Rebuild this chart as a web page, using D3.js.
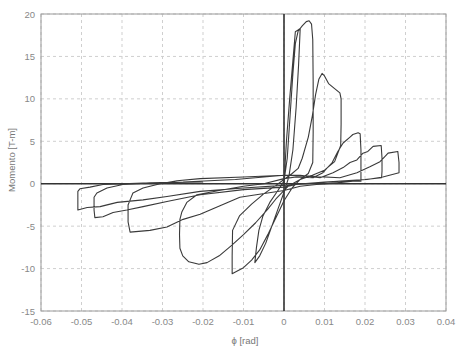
<!DOCTYPE html>
<html>
<head>
<meta charset="utf-8">
<script src="https://cdn.jsdelivr.net/npm/d3@7"></script>
<style>
  body { margin: 0; background: #fff; }
  svg { display: block; font-family: "Liberation Sans", Arial, sans-serif; }
</style>
</head>
<body>
<svg id="chart" width="457" height="347"></svg>
<script>
// rotation phi [rad] and moment M [T-m], in test order
var phi = [
  0, 0.0006, 0.0014, 0.0022, 0.0028, 0.0034, 0.0040,
  0.0036, 0.0030, 0.0022, 0.0012, 0.0,
  -0.0015, -0.003, -0.0045, -0.006, -0.0072,
  -0.0068, -0.0062, -0.0052, -0.0035, -0.0015, 0,
  0.0008, 0.0015, 0.0022, 0.0028, 0.0035, 0.0045, 0.0055, 0.0062, 0.0068, 0.0071, 0.0072, 0.0072, 0.0071,
  0.006, 0.004, 0.002, 0.0,
  -0.002, -0.004, -0.006, -0.008, -0.010, -0.012, -0.0128,
  -0.0128, -0.0127, -0.011, -0.008, -0.005, -0.002, 0,
  0.002, 0.0035, 0.0045, 0.006, 0.007, 0.0078, 0.0086, 0.0094, 0.0100, 0.0110, 0.0125, 0.0138, 0.0141, 0.0141, 0.0140,
  0.0125, 0.010, 0.007, 0.004, 0.001,
  -0.002, -0.004, -0.007, -0.010, -0.013, -0.016, -0.019, -0.021, -0.0235, -0.025, -0.0257, -0.0258, -0.0257,
  -0.0252, -0.024, -0.0215, -0.016, -0.010, -0.005, 0,
  0.003, 0.0072, 0.0096, 0.0119, 0.0133, 0.0146, 0.0163, 0.0170, 0.0183, 0.0188, 0.0190, 0.0190, 0.0190,
  0.017, 0.013, 0.008, 0.004, 0,
  -0.0109, -0.0207, -0.0249, -0.0289, -0.0331, -0.0380, -0.0385, -0.0385, -0.0380,
  -0.0373, -0.0348, -0.0306, -0.0264, -0.0207, -0.010, 0,
  0.004, 0.0089, 0.0121, 0.0146, 0.0163, 0.0180, 0.0195, 0.0207, 0.0220, 0.0240, 0.0242, 0.0242, 0.0241,
  0.020, 0.014, 0.008, 0.003, 0,
  -0.0100, -0.0207, -0.0289, -0.0348, -0.0388, -0.0422, -0.0447, -0.0467, -0.0469, -0.0469,
  -0.0462, -0.0437, -0.0398, -0.0331, -0.0249, -0.012, 0,
  0.006, 0.0138, 0.0180, 0.0212, 0.0237, 0.0249, 0.0257, 0.0281, 0.0284, 0.0284,
  0.0244, 0.0205, 0.010, 0,
  -0.0100, -0.0207, -0.0289, -0.0348, -0.0412, -0.0454, -0.0486, -0.0509, -0.0509,
  -0.0504, -0.0479, -0.0447, -0.0398, -0.0331, -0.020
];
var moment = [
  0, 5, 10, 14.5, 17.9, 18.1, 18.3,
  14, 9, 4, 0.8, -1.0,
  -3, -5, -7, -8.5, -9.3,
  -7.5, -5.5, -3.8, -2.2, -0.8, 0.3,
  3, 8, 13, 16.5, 18.0, 18.6, 19.1, 19.2, 18.8, 17, 12, 6, 2.5,
  1.2, 0.5, -0.5, -2,
  -4, -6, -7.8, -9, -9.9, -10.4, -10.6,
  -8.5, -5.5, -3.8, -2.4, -1.2, -0.2, 0.5,
  1.2, 1.8, 3, 5.5, 8, 10.5, 12.3, 13, 12.7, 11.8, 11.2, 10.7, 10, 7, 4.5,
  2.6, 1.6, 1.0, 0.5, -0.3,
  -1.8, -3.0, -4.6, -6.0, -7.3, -8.5, -9.3, -9.5, -9.2, -8.5, -7.6, -6, -4.2,
  -3.3, -2.2, -1.3, -0.8, -0.3, 0, 0.6,
  0.8, 0.7, 1.3, 2.5, 3.8, 4.8, 5.5, 5.8, 6.0, 5.9, 4, 1.5, 0.3,
  0.3, 0.1, -0.1, -0.3, -0.8,
  -1.6, -3.6, -4.2, -5.1, -5.5, -5.7, -4.5, -2.5, -1.9,
  -1.1, -0.5, 0, 0.35, 0.6, 0.8, 1,
  1.0, 0.7, 1.3, 1.9, 2.5, 2.8, 3.6, 3.8, 4.4, 4.5, 3, 1.5, 0.7,
  0.5, 0.3, 0.1, -0.1, -0.4,
  -0.7, -1.3, -2.1, -2.7, -3.1, -3.4, -3.9, -4.0, -3.1, -1.6,
  -1.1, -0.5, -0.1, 0.1, 0.2, 0.5, 1,
  0.9, 0.7, 1.3, 2.0, 2.6, 3.2, 3.6, 3.8, 2.5, 1.3,
  0.8, 0.5, 0.2, -0.2,
  -0.5, -0.9, -1.5, -1.9, -2.2, -2.7, -2.8, -3.1, -0.9,
  -0.6, -0.4, -0.1, 0, 0.1, 0.2
];
var xTicks = [-0.06, -0.05, -0.04, -0.03, -0.02, -0.01, 0, 0.01, 0.02, 0.03, 0.04];
var yTicks = [-15, -10, -5, 0, 5, 10, 15, 20];

var svg = d3.select("#chart");

var x = d3.scaleLinear().domain([-0.06, 0.04]).range([41, 446]);
var y = d3.scaleLinear().domain([-15, 20]).range([311, 14]);

// dashed grid
svg.append("g").selectAll("line")
  .data(xTicks)
  .enter().append("line")
  .attr("x1", function (d) { return x(d); })
  .attr("x2", function (d) { return x(d); })
  .attr("y1", y(20)).attr("y2", y(-15))
  .attr("stroke", "#cfcfcf")
  .attr("stroke-dasharray", "3,3");

svg.append("g").selectAll("line")
  .data(yTicks)
  .enter().append("line")
  .attr("x1", x(-0.06)).attr("x2", x(0.04))
  .attr("y1", function (d) { return y(d); })
  .attr("y2", function (d) { return y(d); })
  .attr("stroke", "#cfcfcf")
  .attr("stroke-dasharray", "3,3");

// frame
svg.append("rect")
  .attr("x", x(-0.06)).attr("y", y(20))
  .attr("width", x(0.04) - x(-0.06))
  .attr("height", y(-15) - y(20))
  .attr("fill", "none")
  .attr("stroke", "#9a9a9a");

// tick labels
var fmt = function (d) { return d === 0 ? "0" : String(d); };
svg.append("g").selectAll("text")
  .data(xTicks)
  .enter().append("text")
  .attr("x", function (d) { return x(d); })
  .attr("y", 325)
  .attr("text-anchor", "middle")
  .attr("font-size", 9.5)
  .attr("fill", "#888")
  .text(fmt);

svg.append("g").selectAll("text")
  .data(yTicks)
  .enter().append("text")
  .attr("x", 35)
  .attr("y", function (d) { return y(d) + 3.5; })
  .attr("text-anchor", "end")
  .attr("font-size", 9.5)
  .attr("fill", "#888")
  .text(fmt);

// axis titles
svg.append("text")
  .attr("x", 245).attr("y", 344)
  .attr("text-anchor", "middle")
  .attr("font-size", 9.5)
  .attr("fill", "#777")
  .text("ϕ [rad]");

svg.append("text")
  .attr("transform", "translate(15,160) rotate(-90)")
  .attr("text-anchor", "middle")
  .attr("font-size", 9.5)
  .attr("fill", "#777")
  .text("Momento [T-m]");

// zero axes
svg.append("line")
  .attr("x1", x(-0.06)).attr("x2", x(0.04))
  .attr("y1", y(0)).attr("y2", y(0))
  .attr("stroke", "#333").attr("stroke-width", 1.6);
svg.append("line")
  .attr("x1", x(0)).attr("x2", x(0))
  .attr("y1", y(20)).attr("y2", y(-15))
  .attr("stroke", "#333").attr("stroke-width", 1.6);

// hysteresis curve
var pts = phi.map(function (p, i) { return [p, moment[i]]; });
var line = d3.line()
  .x(function (d) { return x(d[0]); })
  .y(function (d) { return y(d[1]); })
  .curve(d3.curveLinear);

svg.append("path")
  .datum(pts)
  .attr("d", line)
  .attr("fill", "none")
  .attr("stroke", "#3a3a3a")
  .attr("stroke-width", 1.1)
  .attr("stroke-linejoin", "round");
</script>
</body>
</html>
